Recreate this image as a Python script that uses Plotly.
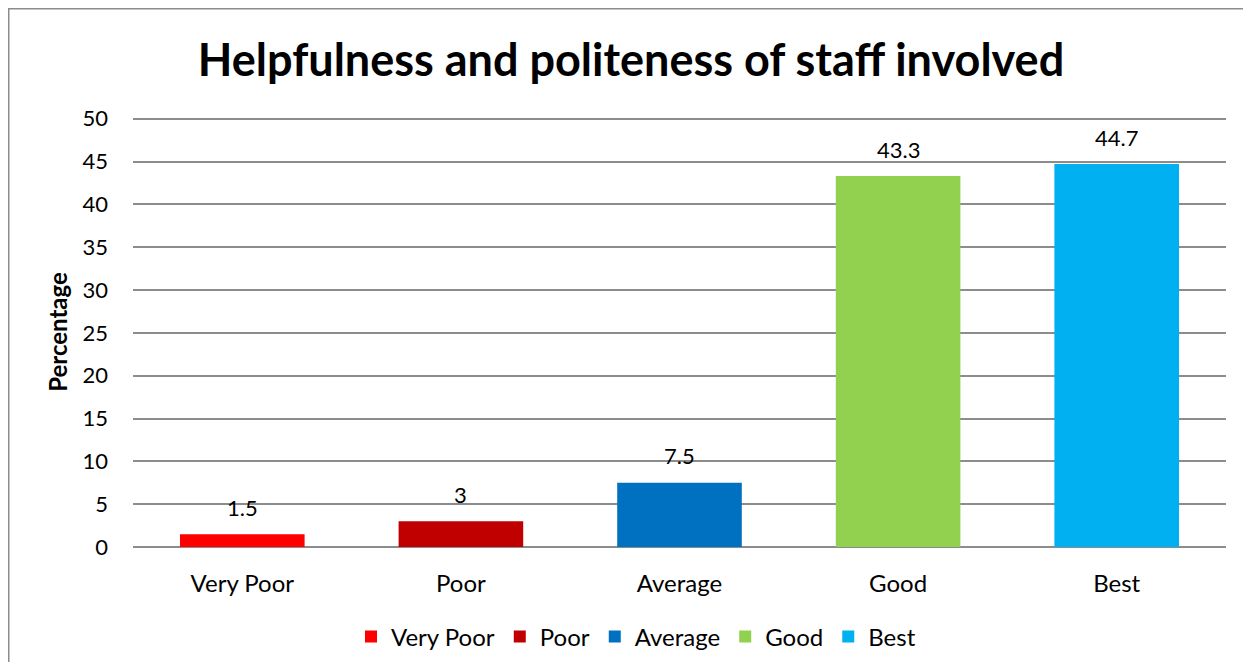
import plotly.graph_objects as go

categories = ["Very Poor", "Poor", "Average", "Good", "Best"]
values = [1.5, 3, 7.5, 43.3, 44.7]
colors = ["#FF0000", "#C00000", "#0070C0", "#92D050", "#00B0F0"]
labels = ["1.5", "3", "7.5", "43.3", "44.7"]
y_ticks = [0, 5, 10, 15, 20, 25, 30, 35, 40, 45, 50]

# page body has an 8px margin, so the figure is drawn 8px in from the window
OFF = 8
W, H = 1251 - 2 * OFF, 670 - 2 * OFF
ml, mr, mt, mb = 133 - OFF, 1251 - 1226 - OFF, 117 - OFF, 670 - 547 - OFF
pw, ph = W - ml - mr, H - mt - mb

FONT = "Lato"

fig = go.Figure()
for c, v, col in zip(categories, values, colors):
    fig.add_trace(go.Bar(
        x=[c], y=[v], name=c, marker=dict(color=col, line=dict(width=0)),
        width=0.57,
    ))

for c, v, lab in zip(categories, values, labels):
    fig.add_annotation(x=c, y=v, text=lab, showarrow=False,
                       yanchor="middle", yshift=27,
                       font=dict(family=FONT, size=22, color="#000000"))

fig.update_layout(
    width=W, height=H,
    margin=dict(l=ml, r=mr, t=mt, b=mb, autoexpand=False),
    paper_bgcolor="white", plot_bgcolor="white",
    barmode="overlay",
    title=dict(text="<b>Helpfulness and politeness of staff involved</b>",
               x=(631 - OFF) / W, xanchor="center", y=1 - (60 - OFF) / H, yanchor="middle",
               font=dict(family=FONT, size=45, color="#000000")),
    font=dict(family=FONT, size=22, color="#000000"),
    xaxis=dict(categoryorder="array", categoryarray=categories,
               showgrid=False, showline=False, ticks="", ticklabelstandoff=20,
               tickfont=dict(family=FONT, size=24, color="#000000")),
    yaxis=dict(range=[0, 50.2], tickvals=y_ticks, showgrid=True,
               gridcolor="#8C8C8C", gridwidth=1.5, zeroline=True,
               zerolinecolor="#8C8C8C", zerolinewidth=1.5,
               showline=False, ticks="", ticklabelstandoff=24,
               tickfont=dict(family=FONT, size=22, color="#000000"),
               title=dict(text="<b>Percentage</b>", standoff=8,
                          font=dict(family=FONT, size=24, color="#000000"))),
    legend=dict(orientation="h", x=(636 - 133) / 1093, xanchor="center",
                y=-(637 - 547) / ph, yanchor="middle",
                font=dict(family=FONT, size=24, color="#000000"),
                itemwidth=30, traceorder="normal"),
    showlegend=True,
)

# chart outer border (left and top visible)
fig.add_shape(type="rect", xref="paper", yref="paper",
              x0=(0.75 - ml) / pw, x1=(W + 20 - ml) / pw,
              y0=-(mb + 20) / ph, y1=1 + (mt - 0.75) / ph,
              line=dict(color="#8C8C8C", width=1.5), fillcolor="rgba(0,0,0,0)",
              layer="below")

fig.write_html("out.html")
